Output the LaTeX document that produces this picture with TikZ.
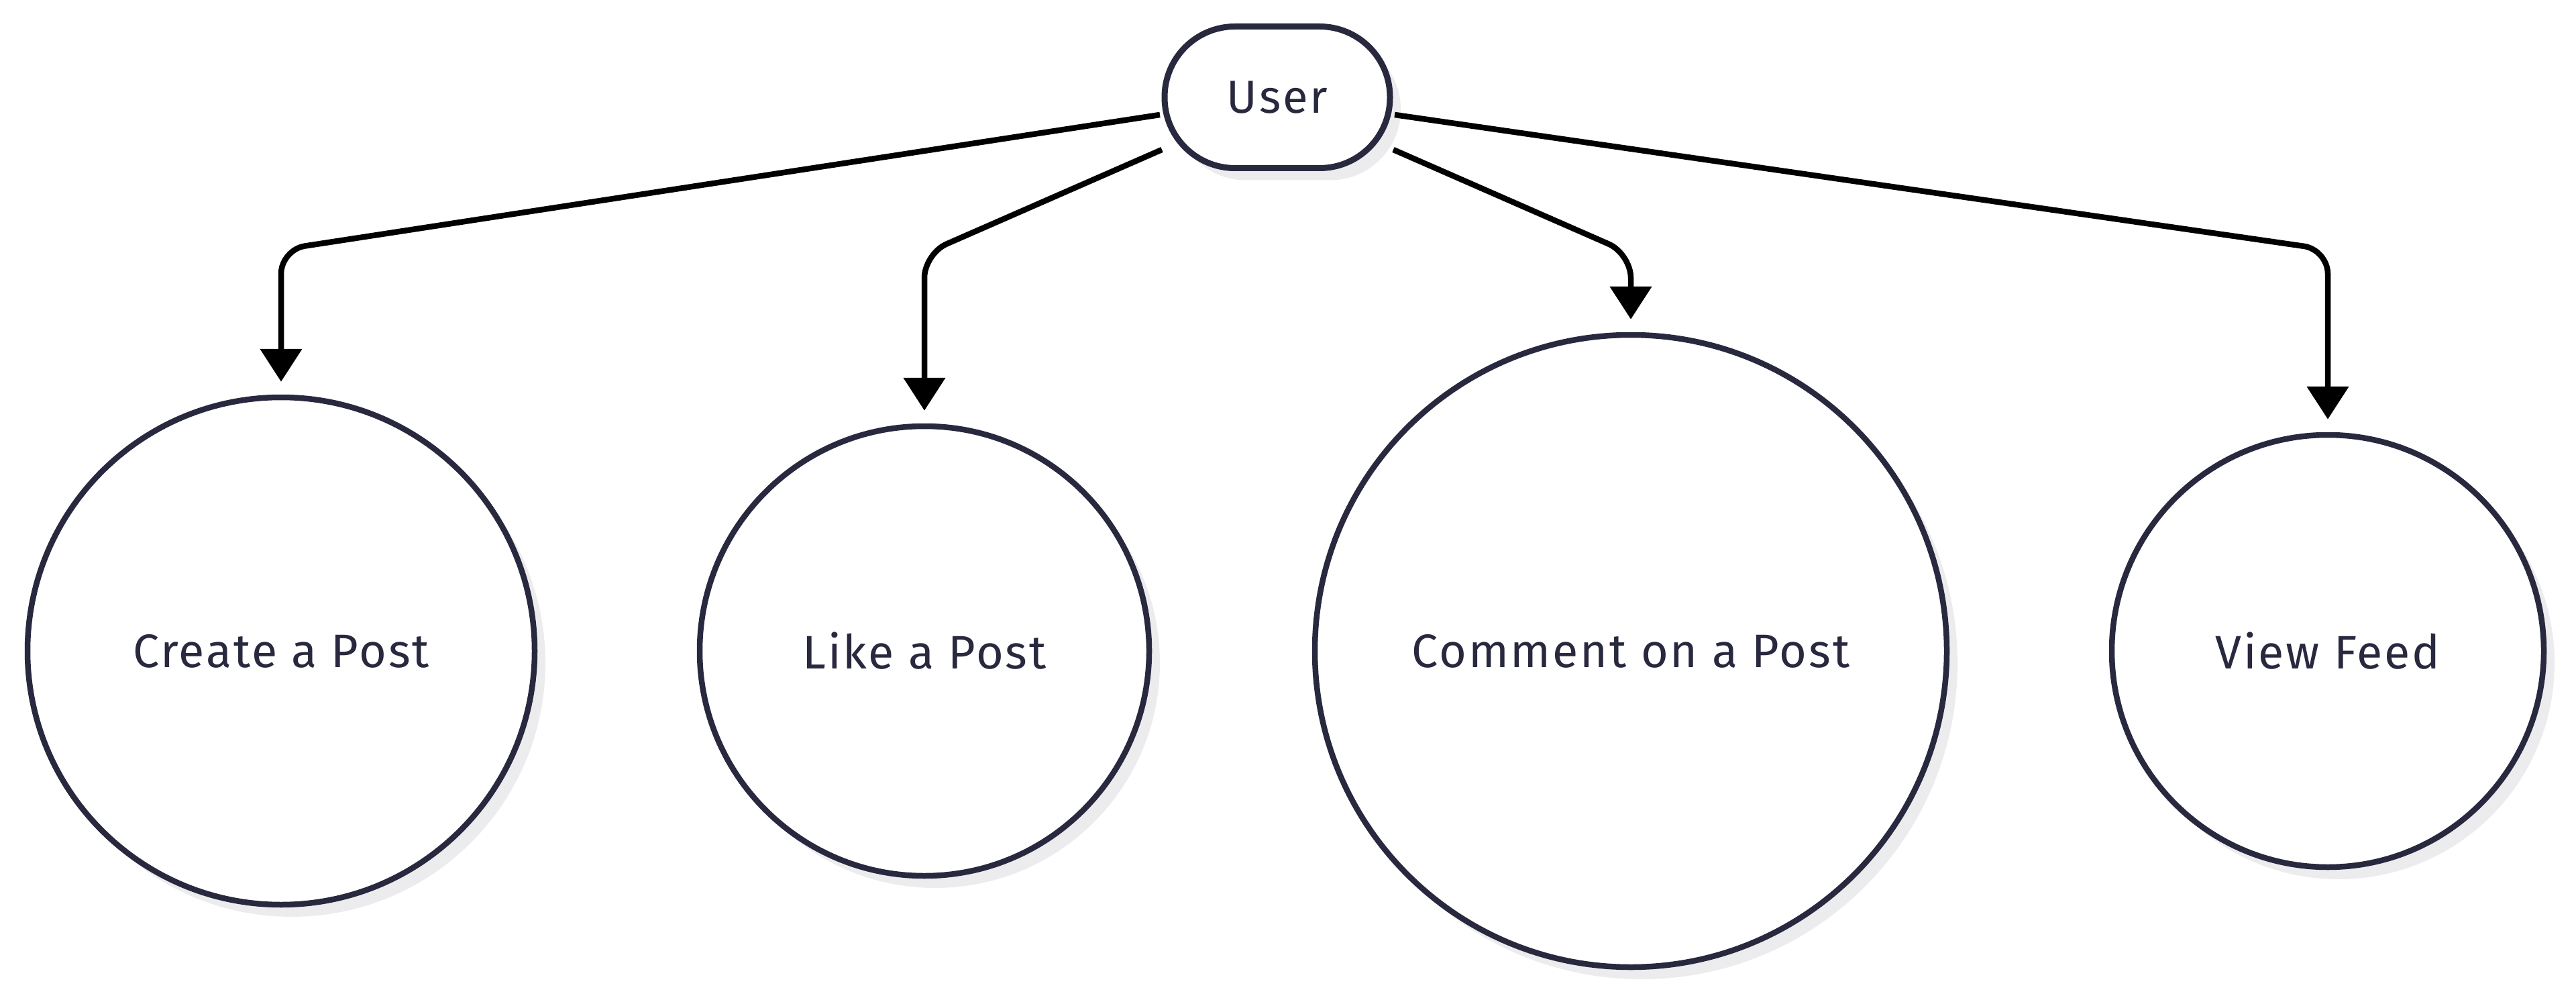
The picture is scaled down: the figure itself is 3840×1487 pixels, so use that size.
\documentclass[tikz,border=0pt]{standalone}
\usepackage{fontspec}
\setmainfont{Fira Sans}[LetterSpace=4]
\usetikzlibrary{arrows.meta,calc,shadows}
\definecolor{ink}{RGB}{40,40,62}
\definecolor{shade}{RGB}{236,236,238}
\begin{document}
\begin{tikzpicture}[x=1pt,y=-1pt,
  soft/.style={drop shadow={shadow xshift=16pt,shadow yshift=-18pt,fill=shade,opacity=1}},
  usecase/.style={circle,draw=ink,line width=8.5pt,fill=white,inner sep=0pt,
    text=ink,font=\fontsize{70}{84}\selectfont,soft},
  actor/.style={rectangle,rounded corners=105pt,draw=ink,line width=9pt,fill=white,
    minimum width=336pt,minimum height=211pt,inner sep=0pt,
    text=ink,font=\fontsize{69}{84}\selectfont,soft},
  conn/.style={draw=black,line width=8.5pt,rounded corners=36pt,
    -{Triangle[length=49pt,width=61pt]},shorten >=19pt}]
  \useasboundingbox (0,0) rectangle (3840,1487);

  % actor
  \node[actor] (user) at (1904,145) {User};

  % use cases
  \node[usecase,minimum size=756pt] (create)  at (419,970)  {Create a Post};
  \node[usecase,minimum size=670pt] (like)    at (1378,970) {Like a Post};
  \node[usecase,minimum size=942pt] (comment) at (2431,970) {Comment on a Post};
  \node[usecase,minimum size=644pt] (feed)    at (3470,970) {View Feed};

  % associations
  \draw[conn] ($(user.center)+(-175,26)$) -- (create.north |- 0,372) -- (create.north);
  \draw[conn] ($(user.center)+(-172,78)$) -- (like.north |- 0,378) -- (like.north);
  \draw[conn] ($(user.center)+(173,78)$) -- (comment.north |- 0,378) -- (comment.north);
  \draw[conn] ($(user.center)+(175,26)$) -- (feed.north |- 0,372) -- (feed.north);
\end{tikzpicture}
\end{document}
